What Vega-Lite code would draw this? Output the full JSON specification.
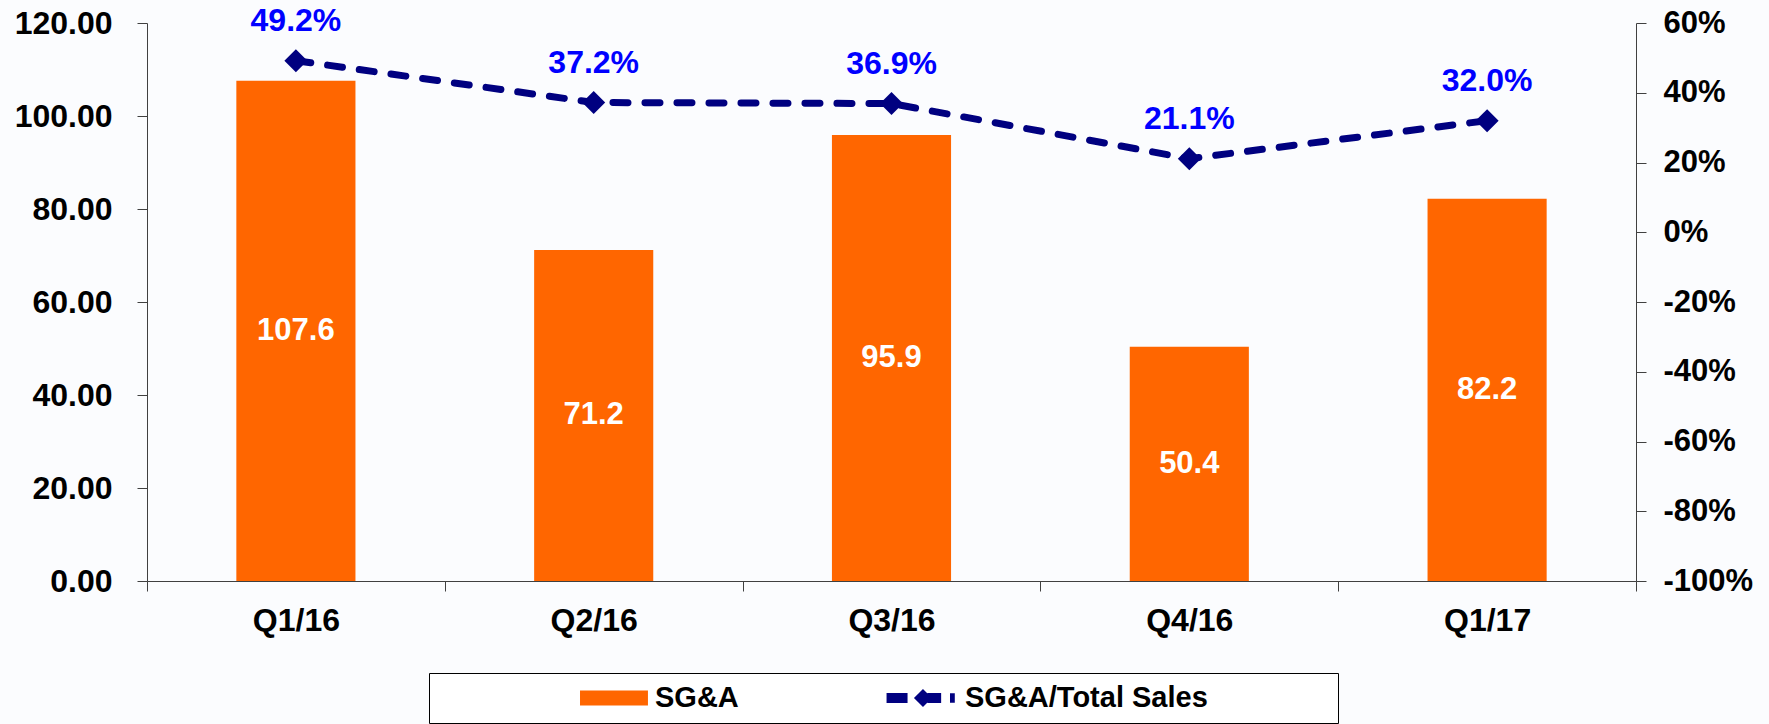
{
  "$schema": "https://vega.github.io/schema/vega-lite/v6.json",
  "width": 1489,
  "height": 558,
  "autosize": {"type": "none"},
  "padding": {"left": 147, "top": 23, "right": 133, "bottom": 143},
  "background": "#fbfcfe",
  "config": {
    "view": {"stroke": null},
    "font": "Liberation Sans",
    "axis": {
      "labelFont": "Liberation Sans",
      "labelFontWeight": "bold",
      "labelColor": "#000000",
      "domainColor": "#404040",
      "tickColor": "#404040",
      "domainWidth": 1,
      "tickWidth": 1,
      "grid": false,
      "title": null
    }
  },
  "data": {
    "values": [
      {"q": "Q1/16", "sga": 107.6, "ratio": 0.492},
      {"q": "Q2/16", "sga": 71.2, "ratio": 0.372},
      {"q": "Q3/16", "sga": 95.9, "ratio": 0.369},
      {"q": "Q4/16", "sga": 50.4, "ratio": 0.211},
      {"q": "Q1/17", "sga": 82.2, "ratio": 0.320}
    ]
  },
  "encoding": {
    "x": {
      "field": "q",
      "type": "nominal",
      "sort": null,
      "scale": {"paddingInner": 0, "paddingOuter": 0},
      "axis": {
        "labelAngle": 0,
        "labelFontSize": 32,
        "tickBand": "extent",
        "tickSize": 10,
        "labelPadding": 14
      }
    }
  },
  "layer": [
    {
      "mark": {"type": "bar", "width": {"band": 0.4}},
      "encoding": {
        "y": {
          "field": "sga",
          "type": "quantitative",
          "scale": {"domain": [0, 120], "nice": false, "zero": true},
          "axis": {
            "orient": "left",
            "values": [0, 20, 40, 60, 80, 100, 120],
            "format": ".2f",
            "labelFontSize": 32,
            "tickSize": 10,
            "labelPadding": 25,
            "encode": {"ticks": {"update": {"x": {"value": 10}}}}
          }
        },
        "color": {
          "datum": "SG&A",
          "scale": {"domain": ["SG&A", "SG&A/Total Sales"], "range": ["#FF6600", "#000080"]},
          "legend": {
            "orient": "none",
            "legendX": 282,
            "legendY": 650,
            "direction": "horizontal",
            "title": " ",
            "titleOrient": "right",
            "titleFontSize": 10,
            "titlePadding": 120,
            "strokeColor": "#000000",
            "fillColor": "#ffffff",
            "padding": 10,
            "symbolSize": 44100,
            "symbolStrokeWidth": 0,
            "clipHeight": 30,
            "labelFont": "Liberation Sans",
            "labelFontSize": 29,
            "labelFontWeight": "bold",
            "labelColor": "#000000",
            "labelOffset": 6,
            "labelLimit": 400,
            "columnPadding": 10,
            "encode": {
              "symbols": {
                "update": {
                  "shape": {"signal": "datum.value === 'SG&A' ? 'M0.343,-0.071H0.99V0.071H0.343Z' : 'M0.31,-0.048H0.51V0.048H0.31Z M0.571,0L0.657,-0.086L0.743,0L0.657,0.086Z M0.70,-0.048H0.83V0.048H0.70Z M0.914,-0.045H0.96V0.045H0.914Z'"},
                  "fill": {"signal": "datum.value === 'SG&A' ? '#FF6600' : '#000080'"},
                  "stroke": {"value": "transparent"},
                  "opacity": {"value": 1}
                }
              }
            }
          }
        }
      }
    },
    {
      "mark": {"type": "text", "color": "#ffffff", "fontSize": 31, "fontWeight": "bold", "font": "Liberation Sans", "baseline": "middle"},
      "encoding": {
        "y": {
          "field": "sga",
          "type": "quantitative",
          "scale": {"domain": [0, 240], "nice": false, "zero": true},
          "axis": null
        },
        "text": {"field": "sga", "type": "quantitative", "format": ".1f"}
      }
    },
    {
      "mark": {
        "type": "line",
        "strokeWidth": 7,
        "strokeCap": "round",
        "strokeDash": [15, 17],
        "point": {"filled": true, "shape": "diamond", "size": 530}
      },
      "encoding": {
        "y": {
          "field": "ratio",
          "type": "quantitative",
          "scale": {"domain": [-1, 0.6], "nice": false, "zero": false},
          "axis": {
            "orient": "right",
            "values": [-1, -0.8, -0.6, -0.4, -0.2, 0, 0.2, 0.4, 0.6],
            "labelExpr": "round(datum.value * 100) + '%'",
            "labelFontSize": 31,
            "labelAlign": "left",
            "tickSize": 10,
            "labelPadding": 17,
            "encode": {"ticks": {"update": {"x": {"value": -10}}}}
          }
        },
        "color": {"datum": "SG&A/Total Sales"}
      }
    },
    {
      "mark": {"type": "text", "color": "#0000FF", "fontSize": 32, "fontWeight": "bold", "font": "Liberation Sans", "baseline": "middle", "dy": -40},
      "encoding": {
        "y": {
          "field": "ratio",
          "type": "quantitative",
          "scale": {"domain": [-1, 0.6], "nice": false, "zero": false},
          "axis": null
        },
        "text": {"field": "ratio", "type": "quantitative", "format": ".1%"}
      }
    }
  ],
  "resolve": {"scale": {"y": "independent"}}
}
